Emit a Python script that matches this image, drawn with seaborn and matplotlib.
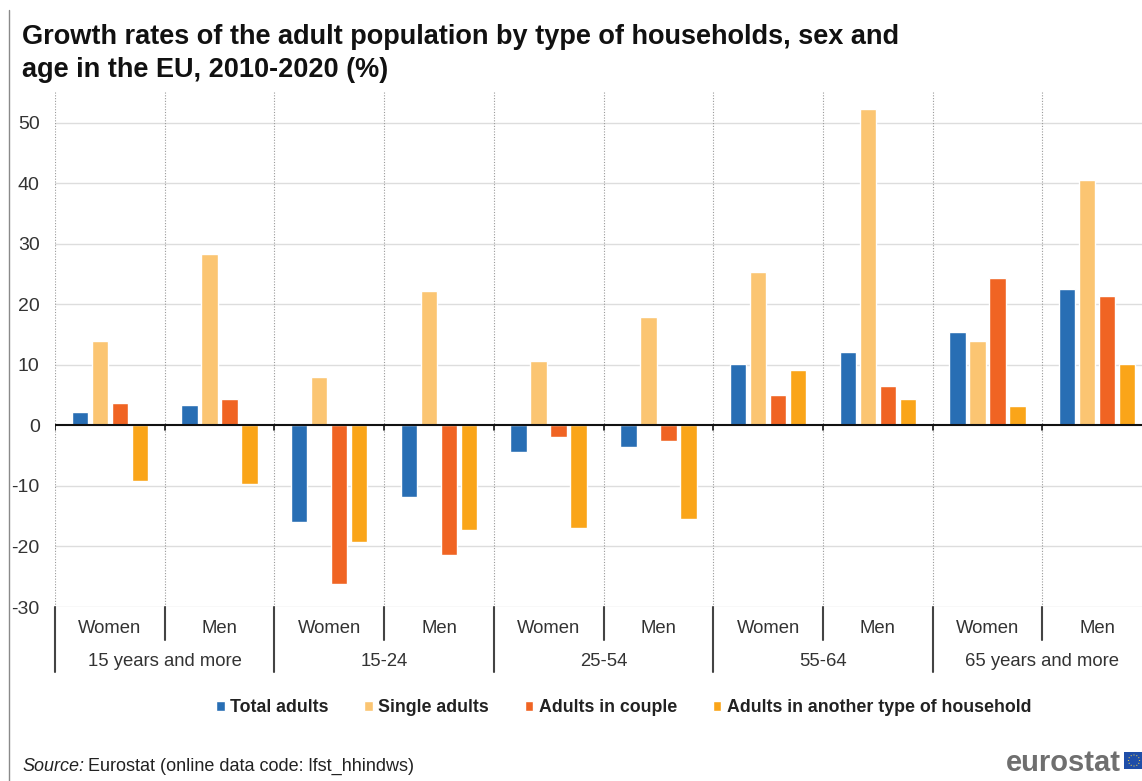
import matplotlib
matplotlib.use("Agg")
import matplotlib.pyplot as plt
from matplotlib.lines import Line2D
from matplotlib.patches import Rectangle, Circle
import matplotlib.transforms as mtransforms
import numpy as np
import pandas as pd
import seaborn as sns

# Age groups, sexes and household types
age_groups = ["15 years and more", "15-24", "25-54", "55-64", "65 years and more"]
sexes = ["Women", "Men"]
household_types = ["Total adults", "Single adults", "Adults in couple",
                   "Adults in another type of household"]

# Growth rates 2010-2020 (%), one value per (age group, sex) in order
total_adults = [2.2, 3.4, -16.0, -11.8, -4.4, -3.5, 10.1, 12.1, 15.5, 22.5]
single_adults = [14.0, 28.4, 8.0, 22.2, 10.7, 18.0, 25.3, 52.3, 14.0, 40.5]
adults_in_couple = [3.7, 4.4, -26.2, -21.4, -1.9, -2.5, 5.1, 6.5, 24.4, 21.4]
adults_other = [-9.1, -9.6, -19.3, -17.2, -16.9, -15.4, 9.2, 4.4, 3.2, 10.1]

y_ticks = [-30, -20, -10, 0, 10, 20, 30, 40, 50]

colors = ["#286EB4", "#FBC572", "#F06423", "#FAA519"]

# Long-form table for seaborn
cells = [f"{g} | {s}" for g in age_groups for s in sexes]
series = [total_adults, single_adults, adults_in_couple, adults_other]
rows = []
for name, vals in zip(household_types, series):
    for cell, v in zip(cells, vals):
        rows.append({"cell": cell, "type": name, "value": v})
df = pd.DataFrame(rows)

sns.set_style("white")
plt.rcParams["font.family"] = ["Liberation Sans", "DejaVu Sans"]

fig = plt.figure(figsize=(11.42, 7.81), dpi=100)
W, H = 1142, 781
ax_left, ax_right, ax_top, ax_bottom = 55, 1152, 92, 607
ax = fig.add_axes([ax_left / W, 1 - ax_bottom / H,
                   (ax_right - ax_left) / W, (ax_bottom - ax_top) / H])

sns.barplot(data=df, x="cell", y="value", hue="type", order=cells,
            hue_order=household_types, palette=colors, width=0.73, gap=0.18,
            saturation=1, errorbar=None, ax=ax, legend=True)

ax.set_xlim(-0.5, len(cells) - 0.5)
ax.set_ylim(-30, 55.1)
ax.set_yticks(y_ticks)
ax.set_yticklabels([str(t) for t in y_ticks], fontsize=14, color="#333333")
ax.tick_params(axis="y", length=0, pad=11)
ax.set_xticks([])
ax.set_xlabel("")
ax.set_ylabel("")
for sp in ax.spines.values():
    sp.set_visible(False)

# Horizontal gridlines
for t in y_ticks:
    if t != 0:
        ax.axhline(t, color="#dddddd", lw=1.0, zorder=0)

# Dotted separators between cells
for i in range(len(cells) + 1):
    ax.axvline(i - 0.5, color="#9a9a9a", lw=0.8, ls=(0, (1, 1.5)), zorder=0)

# Zero line with small ticks at the separators
ax.axhline(0, color="#111111", lw=1.5, zorder=3)
tick_tr = mtransforms.blended_transform_factory(ax.transData, ax.transAxes)
zero_frac = 30 / (55.1 + 30)
for i in range(len(cells) + 1):
    ax.plot([i - 0.5, i - 0.5], [zero_frac, zero_frac - 0.008],
            transform=tick_tr, color="#111111", lw=1.2, zorder=3)

# Category axis below the plot
for i in range(len(cells) + 1):
    is_group_edge = (i % 2 == 0)
    y_end = -0.126 if is_group_edge else -0.064
    ax.plot([i - 0.5, i - 0.5], [0, y_end], transform=tick_tr,
            color="#444444", lw=1.5, clip_on=False)

for i, cell in enumerate(cells):
    ax.text(i, -0.0427, sexes[i % 2], transform=tick_tr, ha="center",
            va="center", fontsize=13.3, color="#333333")
for j, g in enumerate(age_groups):
    ax.text(2 * j + 0.5, -0.105, g, transform=tick_tr, ha="center",
            va="center", fontsize=13.3, color="#333333")

# Legend
handles, labels = ax.get_legend_handles_labels()
ax.legend_.remove()
leg = fig.legend(handles, labels, loc="center", bbox_to_anchor=(0.546, 1 - 708 / H),
                 ncol=4, frameon=False, handlelength=0.5, handleheight=0.5,
                 handletextpad=0.3, columnspacing=2.0,
                 prop={"weight": "bold", "size": 12.8})
for txt in leg.get_texts():
    txt.set_color("#222222")

# Title
fig.text(22 / W, 1 - 37 / H,
         "Growth rates of the adult population by type of households, sex and",
         fontsize=19.5, fontweight="bold", color="#111111", va="center", ha="left")
fig.text(22 / W, 1 - 70 / H, "age in the EU, 2010-2020 (%)",
         fontsize=19.5, fontweight="bold", color="#111111", va="center", ha="left")

# Source line
src_y = 1 - 771 / H
t1 = fig.text(22 / W, src_y, "Source:", fontsize=13, style="italic",
              color="#222222", va="baseline", ha="left")
fig.canvas.draw()
bb = t1.get_window_extent(renderer=fig.canvas.get_renderer())
fig.text(bb.x1 / W + 4 / W, src_y, "Eurostat (online data code: lfst_hhindws)",
         fontsize=13, color="#222222", va="baseline", ha="left")

# Logo
fig.text(1121 / W, 1 - 771 / H, "eurostat", fontsize=21, fontweight="bold",
         color="#6f6f6f", ha="right", va="baseline")
fig.add_artist(Rectangle((1124 / W, 1 - 769 / H), 18 / W, 17 / H,
                         transform=fig.transFigure, color="#1f4ea8", lw=0))
cx, cy = 1134 / W, 1 - 760.5 / H
for k in range(12):
    a = 2 * np.pi * k / 12
    fig.add_artist(Circle((cx + 5.5 * np.cos(a) / W, cy + 5.5 * np.sin(a) / H),
                          0.7 / W, transform=fig.transFigure,
                          color="#f3d34a", lw=0))

# Frame line at the left edge
fig.add_artist(Line2D([9 / W, 9 / W], [0, 1 - 10 / H], transform=fig.transFigure,
                      color="#8a8a8a", lw=1.0))

fig.savefig("out.png", dpi=100, facecolor="white")
